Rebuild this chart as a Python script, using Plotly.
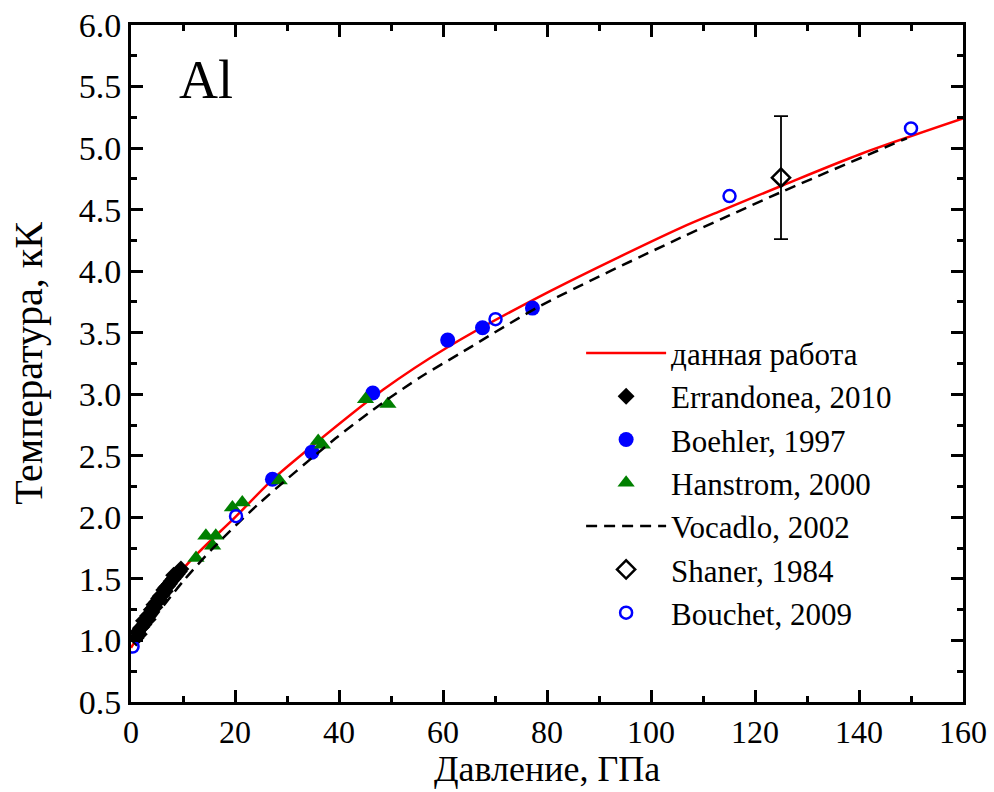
import plotly.graph_objects as go

# --- melting curve of Al: this work (sampled along the curve) ---
this_p = [0.0, 10.0, 20.0, 27.3, 31.7, 48.6, 60.8, 80.7, 105.6, 114.0, 124.9, 140.2, 160.0]
this_t = [0.94, 1.58, 2.00, 2.31, 2.47, 3.04, 3.38, 3.84, 4.35, 4.50, 4.69, 4.95, 5.24]

# --- Errandonea, 2010 ---
err_p = [1.0, 1.3, 1.6, 1.8, 2.1, 2.4, 2.5, 2.8, 3.2, 3.3, 3.5, 3.9, 4.2, 4.4, 4.6, 4.9, 5.3,
         5.5, 5.6, 6.0, 6.3, 6.6, 6.7, 7.0, 7.4, 7.7, 8.1, 8.2, 8.5, 8.9, 9.3, 9.6]
err_t = [1.02, 1.07, 1.05, 1.10, 1.11, 1.16, 1.13, 1.16, 1.20, 1.17, 1.21, 1.25, 1.26, 1.29, 1.27, 1.31, 1.34,
         1.33, 1.36, 1.37, 1.41, 1.40, 1.43, 1.44, 1.46, 1.48, 1.50, 1.53, 1.52, 1.54, 1.56, 1.58]

# --- Boehler, 1997 ---
boe_p = [27.2, 34.8, 46.5, 60.9, 67.6, 77.2]
boe_t = [2.31, 2.53, 3.01, 3.44, 3.54, 3.70]

# --- Hanstrom, 2000 ---
han_p = [12.5, 14.4, 15.7, 16.3, 19.5, 21.4, 28.5, 36.0, 36.8, 45.1, 49.4]
han_t = [1.67, 1.85, 1.77, 1.85, 2.08, 2.12, 2.30, 2.62, 2.59, 2.96, 2.92]

# --- Vocadlo, 2002 ---
voc_p = [2.0, 10.0, 16.0, 24.3, 39.3, 48.7, 55.7, 64.0, 78.8, 105.6, 116.5, 124.9, 149.2]
voc_t = [1.05, 1.48, 1.76, 2.10, 2.64, 2.94, 3.14, 3.35, 3.72, 4.27, 4.48, 4.64, 5.08]

# --- Shaner, 1984 ---
sha_p = [125.0]
sha_t = [4.76]
sha_err = [0.5]

# --- Bouchet, 2009 ---
bou_p = [0.3, 20.2, 70.1, 115.1, 150.0]
bou_t = [0.95, 2.01, 3.61, 4.61, 5.16]

x_ticks = list(range(0, 161, 20))
y_ticks = [0.5 + 0.5 * i for i in range(12)]

x_title = "Давление, ГПа"
y_title = "Температура, кК"

FONT = "Liberation Serif"

fig = go.Figure()

fig.add_trace(go.Scatter(
    x=this_p, y=this_t, mode="lines", name="данная работа",
    line=dict(color="#ff0000", width=2.5, shape="spline", smoothing=0.8)))

fig.add_trace(go.Scatter(
    x=err_p, y=err_t, mode="markers", name="Errandonea, 2010",
    marker=dict(symbol="diamond", size=13, color="black")))

fig.add_trace(go.Scatter(
    x=boe_p, y=boe_t, mode="markers", name="Boehler, 1997",
    marker=dict(symbol="circle", size=15, color="#0000ff")))

fig.add_trace(go.Scatter(
    x=han_p, y=han_t, mode="markers", name="Hanstrom, 2000",
    marker=dict(symbol="triangle-up", size=15, color="#008000")))

fig.add_trace(go.Scatter(
    x=voc_p, y=voc_t, mode="lines", name="Vocadlo, 2002",
    line=dict(color="black", width=2.5, dash="11px,7px", shape="spline", smoothing=0.8)))

fig.add_trace(go.Scatter(
    x=sha_p, y=sha_t, mode="markers", name="Shaner, 1984",
    marker=dict(symbol="diamond-open", size=14, color="black", line=dict(width=2.5)),
    error_y=dict(type="data", array=sha_err, visible=True, color="black",
                 thickness=1.8, width=7)))

fig.add_trace(go.Scatter(
    x=bou_p, y=bou_t, mode="markers", name="Bouchet, 2009",
    marker=dict(symbol="circle-open", size=12, color="#0000ff", line=dict(width=2.5))))

fig.add_annotation(x=14.5, y=5.55, text="Al", showarrow=False,
                   font=dict(family=FONT, size=54, color="black"))

# x-axis title placed under the tick labels
fig.add_annotation(xref="paper", yref="paper", x=0.5, y=0, yanchor="bottom",
                   yshift=-89, text=x_title, showarrow=False,
                   font=dict(family=FONT, size=36, color="black"))

axis_common = dict(
    showline=True, linecolor="black", linewidth=3, mirror="allticks",
    ticks="inside", ticklen=12, tickwidth=2.5, tickcolor="black",
    showgrid=False, zeroline=False, automargin=False,
)

fig.update_xaxes(
    range=[0, 160], tickvals=x_ticks, ticktext=[str(v) for v in x_ticks],
    tickfont=dict(family=FONT, size=32, color="black"),
    minor=dict(dtick=10, ticks="inside", ticklen=6, tickwidth=2.5, tickcolor="black"),
    **axis_common)

fig.update_yaxes(
    range=[0.5, 6.0], tickvals=y_ticks, ticktext=[f"{v:.1f}" for v in y_ticks],
    tickfont=dict(family=FONT, size=34, color="black"),
    minor=dict(dtick=0.25, ticks="inside", ticklen=6, tickwidth=2.5, tickcolor="black"),
    title=dict(text=y_title, font=dict(family=FONT, size=40, color="black"),
               standoff=24),
    **axis_common)

fig.update_layout(
    width=994, height=792,
    margin=dict(l=131, r=31, t=25, b=90),
    paper_bgcolor="white", plot_bgcolor="white",
    showlegend=True,
    legend=dict(x=0.541, y=0.555, xanchor="left", yanchor="top",
                bgcolor="rgba(0,0,0,0)", borderwidth=0,
                font=dict(family=FONT, size=31, color="black"),
                itemwidth=80, traceorder="normal"),
)

fig.write_html("out.html")
